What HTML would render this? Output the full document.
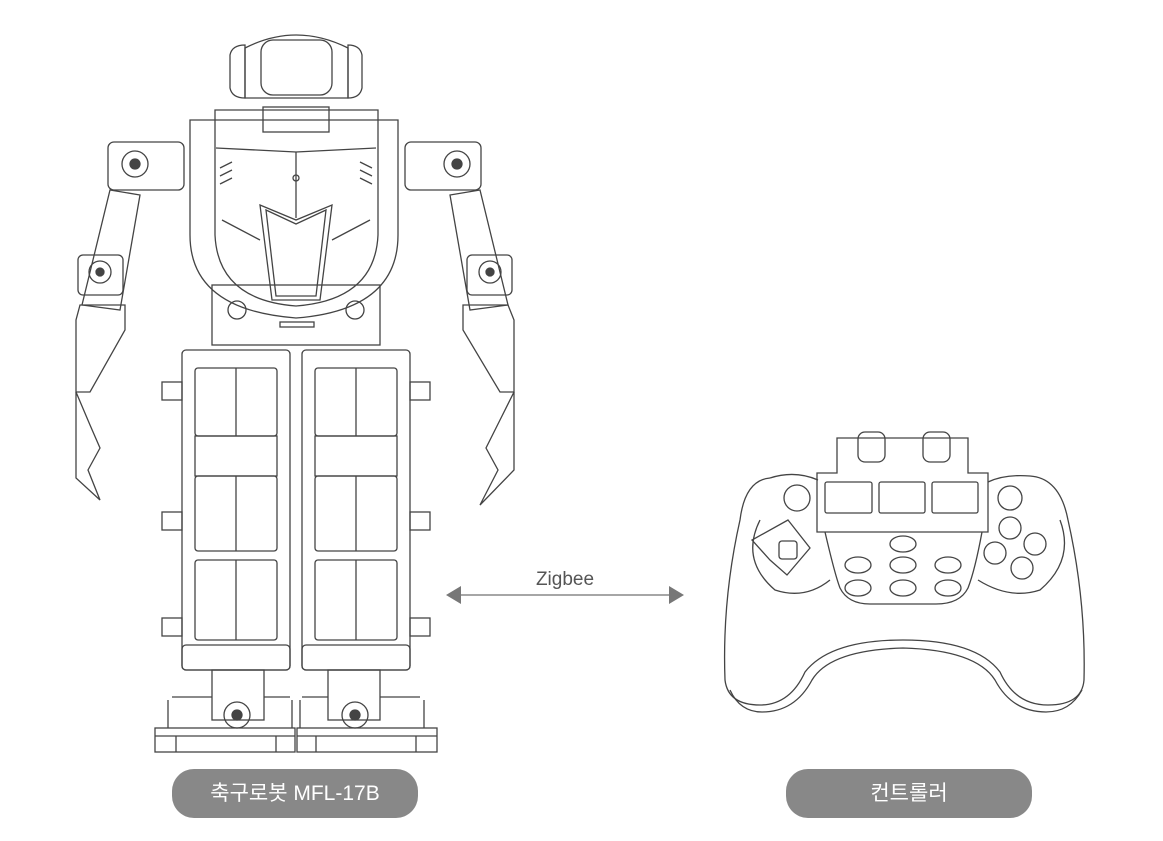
<!DOCTYPE html>
<html><head><meta charset="utf-8"><style>
body{margin:0;background:#fff;width:1163px;height:841px;overflow:hidden;position:relative;font-family:"Liberation Sans","Noto Sans CJK KR",sans-serif}
.pill{position:absolute;background:#888;color:#fff;border-radius:22px;text-align:center;font-size:21px;line-height:49px;height:49px;width:246px;top:769px}
</style></head><body>
<svg width="1163" height="841" style="position:absolute;left:0;top:0" fill="none" stroke="#444" stroke-width="1.3">
<!-- head -->
<path d="M245 48 Q296 22 348 48 L348 98 L245 98 Z"/>
<path d="M230 55 Q232 45 245 45 L245 98 Q232 98 230 88 Z"/>
<path d="M362 55 Q360 45 348 45 L348 98 Q360 98 362 88 Z"/>
<rect x="261" y="40" width="71" height="55" rx="12"/>
<!-- torso -->
<path d="M190 120 L398 120 L398 235 Q398 310 296 318 Q190 310 190 235 Z"/>
<path d="M215 110 L378 110 L378 235 Q375 300 296 306 Q218 300 215 235 Z"/>
<rect x="263" y="107" width="66" height="25"/>
<path d="M216 148 L296 152 L376 148 M296 152 L296 218"/>
<circle cx="296" cy="178" r="3"/>
<path d="M260 205 L296 220 L332 205 L320 300 L272 300 Z"/>
<path d="M266 210 L296 224 L326 210 L316 296 L276 296 Z"/>
<path d="M222 220 L260 240 M370 220 L332 240"/>
<path d="M220 168 l12 -6 M220 176 l12 -6 M220 184 l12 -6 M372 168 l-12 -6 M372 176 l-12 -6 M372 184 l-12 -6"/>
<!-- hip -->
<rect x="212" y="285" width="168" height="60"/>
<rect x="280" y="322" width="34" height="5"/>
<circle cx="237" cy="310" r="9"/><circle cx="355" cy="310" r="9"/>
<!-- left arm -->
<rect x="108" y="142" width="76" height="48" rx="6"/>
<circle cx="135" cy="164" r="13"/><circle cx="135" cy="164" r="5" fill="#444"/>
<path d="M110 190 L140 195 L120 310 L82 305 Z"/>
<rect x="78" y="255" width="45" height="40" rx="5"/>
<circle cx="100" cy="272" r="11"/><circle cx="100" cy="272" r="4" fill="#444"/>
<path d="M80 305 L125 305 L125 330 L90 392 L76 392 L76 320 Z"/>
<path d="M76 392 L76 478 L100 500 L88 470 L100 448 L90 425 Z"/>
<!-- right arm -->
<rect x="405" y="142" width="76" height="48" rx="6"/>
<circle cx="457" cy="164" r="13"/><circle cx="457" cy="164" r="5" fill="#444"/>
<path d="M480 190 L450 195 L470 310 L508 305 Z"/>
<rect x="467" y="255" width="45" height="40" rx="5"/>
<circle cx="490" cy="272" r="11"/><circle cx="490" cy="272" r="4" fill="#444"/>
<path d="M508 305 L463 305 L463 330 L500 392 L514 392 L514 320 Z"/>
<path d="M514 392 L514 470 L480 505 L498 470 L486 448 L500 420 Z"/>
<!-- legs -->
<g id="leg">
<rect x="182" y="350" width="108" height="320" rx="4"/>
<rect x="195" y="368" width="82" height="68" rx="3"/>
<rect x="195" y="436" width="82" height="40"/>
<rect x="195" y="476" width="82" height="75" rx="3"/>
<rect x="195" y="560" width="82" height="80" rx="3"/>
<path d="M236 368 V436 M236 476 V551 M236 560 V640"/>
<rect x="182" y="645" width="108" height="25" rx="4"/>
<rect x="162" y="382" width="20" height="18"/><rect x="162" y="512" width="20" height="18"/><rect x="162" y="618" width="20" height="18"/>
<rect x="212" y="670" width="52" height="50"/>
<circle cx="237" cy="715" r="13"/><circle cx="237" cy="715" r="5" fill="#444"/>
<path d="M172 697 L212 697 M264 697 L290 697 M168 700 V728 M292 700 V728"/>
<rect x="155" y="728" width="140" height="24"/>
<path d="M155 736 H295 M176 736 V752 M276 736 V752"/>
</g>
<use href="#leg" transform="translate(592 0) scale(-1 1)"/>
<!-- controller -->
<path d="M770 478 Q745 480 740 520 Q722 600 725 680 Q728 705 760 705 Q790 705 805 672 Q830 640 903 640 Q976 640 1000 672 Q1015 705 1048 705 Q1082 705 1084 680 Q1086 600 1068 520 Q1060 478 1030 476 Q1005 474 988 482"/>
<path d="M770 478 Q795 470 818 480"/>
<path d="M730 690 Q740 712 762 712 Q795 712 812 680 Q830 650 903 648 Q976 650 995 680 Q1012 712 1046 712 Q1070 712 1082 690"/>
<path d="M817 532 L817 473 L837 473 L837 438 L968 438 L968 473 L988 473 L988 532 Z"/>
<rect x="858" y="432" width="27" height="30" rx="7"/>
<rect x="923" y="432" width="27" height="30" rx="7"/>
<rect x="825" y="482" width="47" height="31" rx="2"/>
<rect x="879" y="482" width="46" height="31" rx="2"/>
<rect x="932" y="482" width="46" height="31" rx="2"/>
<circle cx="797" cy="498" r="13"/><circle cx="1010" cy="498" r="12"/>
<path d="M825 532 Q835 575 840 588 Q848 604 870 604 L936 604 Q960 604 968 588 Q975 570 982 532"/>
<path d="M760 520 Q740 560 775 590 Q805 600 830 580 M1060 520 Q1075 560 1040 590 Q1010 600 978 580"/>
<path d="M788 520 L810 548 L787 575 L770 560 L752 540 Z"/>
<rect x="779" y="541" width="18" height="18" rx="3"/>
<circle cx="1010" cy="528" r="11"/><circle cx="1035" cy="544" r="11"/><circle cx="995" cy="553" r="11"/><circle cx="1022" cy="568" r="11"/>
<ellipse cx="903" cy="544" rx="13" ry="8"/>
<ellipse cx="858" cy="565" rx="13" ry="8"/><ellipse cx="903" cy="565" rx="13" ry="8"/><ellipse cx="948" cy="565" rx="13" ry="8"/>
<ellipse cx="858" cy="588" rx="13" ry="8"/><ellipse cx="903" cy="588" rx="13" ry="8"/><ellipse cx="948" cy="588" rx="13" ry="8"/>
<!-- arrow -->
<path d="M458 595 H672" stroke="#888" stroke-width="1.5"/>
<path d="M446 595 L461 586 L461 604 Z M684 595 L669 586 L669 604 Z" fill="#777" stroke="none"/>
<text x="565" y="585" font-size="19" fill="#555" stroke="none" text-anchor="middle" font-family="Liberation Sans, sans-serif">Zigbee</text>
</svg>
<div class="pill" style="left:172px">축구로봇 MFL-17B</div>
<div class="pill" style="left:786px">컨트롤러</div>
</body></html>
